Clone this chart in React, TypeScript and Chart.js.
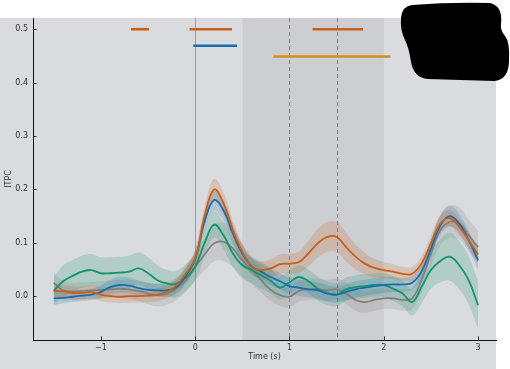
import React, { useEffect, useRef } from "react";
import { Chart, registerables } from "chart.js";

Chart.register(...registerables);

const timeS = [-1.5,-1.4,-1.3,-1.2,-1.1,-1.0,-0.9,-0.8,-0.7,-0.6,-0.5,-0.4,-0.3,-0.2,-0.1,0,0.1,0.2,0.3,0.4,0.5,0.6,0.7,0.8,0.9,1.0,1.1,1.2,1.3,1.4,1.5,1.6,1.7,1.8,1.9,2.0,2.1,2.2,2.3,2.4,2.5,2.6,2.7,2.8,2.9,3.0];

const itpcVermilion = [0.010,0.009,0.006,0.006,0.008,0.003,0.000,-0.001,0.000,0.000,0.001,0.003,0.008,0.020,0.042,0.070,0.150,0.200,0.174,0.124,0.083,0.055,0.049,0.052,0.060,0.061,0.064,0.080,0.099,0.111,0.111,0.092,0.074,0.061,0.053,0.049,0.046,0.042,0.042,0.061,0.099,0.136,0.146,0.130,0.105,0.078];
const ciVermilion = [0.015,0.012,0.012,0.012,0.012,0.012,0.012,0.012,0.012,0.012,0.012,0.012,0.012,0.013,0.015,0.017,0.019,0.020,0.020,0.018,0.016,0.015,0.016,0.017,0.018,0.018,0.020,0.024,0.027,0.028,0.028,0.027,0.024,0.020,0.017,0.015,0.014,0.013,0.013,0.014,0.015,0.015,0.015,0.015,0.015,0.015];

const itpcBlue = [-0.004,-0.003,-0.001,0.001,0.003,0.008,0.017,0.021,0.020,0.015,0.012,0.011,0.011,0.017,0.038,0.070,0.140,0.180,0.161,0.117,0.080,0.056,0.046,0.036,0.028,0.019,0.016,0.013,0.011,0.005,0.003,0.008,0.013,0.016,0.019,0.021,0.022,0.022,0.025,0.046,0.089,0.133,0.150,0.136,0.105,0.067];
const ciBlue = [0.012,0.010,0.010,0.010,0.010,0.012,0.014,0.015,0.015,0.014,0.013,0.012,0.012,0.013,0.015,0.017,0.019,0.020,0.020,0.018,0.016,0.015,0.015,0.015,0.015,0.015,0.015,0.015,0.015,0.015,0.015,0.015,0.015,0.015,0.015,0.015,0.014,0.013,0.013,0.014,0.016,0.018,0.020,0.018,0.017,0.017];

const itpcGreen = [0.010,0.028,0.038,0.046,0.049,0.043,0.043,0.044,0.046,0.052,0.043,0.030,0.024,0.023,0.035,0.055,0.100,0.134,0.114,0.080,0.058,0.049,0.039,0.029,0.016,0.026,0.036,0.028,0.014,0.006,0.003,0.013,0.017,0.019,0.021,0.021,0.014,0.005,-0.011,0.017,0.049,0.066,0.074,0.058,0.030,-0.017];
const ciGreen = [0.025,0.030,0.030,0.030,0.030,0.030,0.030,0.030,0.030,0.030,0.030,0.028,0.025,0.025,0.025,0.025,0.025,0.025,0.025,0.025,0.025,0.025,0.025,0.024,0.022,0.022,0.022,0.022,0.022,0.022,0.022,0.022,0.022,0.022,0.022,0.022,0.023,0.024,0.025,0.030,0.035,0.040,0.045,0.045,0.045,0.045];

const itpcGray = [0.025,0.011,0.009,0.010,0.011,0.012,0.013,0.014,0.013,0.010,0.005,0.002,0.005,0.014,0.030,0.055,0.078,0.099,0.102,0.089,0.067,0.049,0.030,0.012,0.002,-0.001,0.010,0.013,0.013,0.011,0.013,0.005,-0.007,-0.011,-0.007,-0.004,-0.004,-0.007,-0.004,0.030,0.080,0.124,0.139,0.136,0.114,0.092];
const ciGray = [0.020,0.018,0.016,0.016,0.016,0.016,0.016,0.017,0.018,0.019,0.020,0.021,0.021,0.021,0.022,0.025,0.030,0.034,0.036,0.035,0.030,0.026,0.023,0.021,0.020,0.020,0.020,0.020,0.020,0.020,0.020,0.020,0.020,0.020,0.020,0.020,0.020,0.020,0.020,0.022,0.025,0.028,0.030,0.030,0.030,0.030];

// significance bars: [start, end] in seconds, at a given ITPC level
const sigVermilionStarts = [-0.68, -0.06, 1.245];
const sigVermilionEnds = [-0.49, 0.39, 1.78];
const sigVermilionLevel = 0.5;
const sigBlueStarts = [-0.02];
const sigBlueEnds = [0.445];
const sigBlueLevel = 0.469;
const sigGoldStarts = [0.83];
const sigGoldEnds = [2.07];
const sigGoldLevel = 0.449;

const xTicks = [-1, 0, 1, 2, 3];
const yTicks = [0.0, 0.1, 0.2, 0.3, 0.4, 0.5];
const shadedWindow = [0.5, 2.0];
const solidMarks = [0];
const dashedMarks = [1, 1.5];

const COL_V = [200, 96, 26];
const COL_B = [24, 110, 170];
const COL_G = [20, 148, 108];
const COL_K = [128, 128, 128];
const COL_GOLD = [212, 140, 28];
const rgba = (c: number[], a: number) => `rgba(${c[0]},${c[1]},${c[2]},${a})`;

const FONT = "'DejaVu Sans', sans-serif";

function seriesSets(vals: number[], ci: number[], col: number[]) {
  const line = {
    data: timeS.map((x, i) => ({ x, y: vals[i] })),
    borderColor: rgba(col, 1),
    borderWidth: 1.8,
    pointRadius: 0,
    fill: false,
    tension: 0.4,
    order: 0,
  };
  const upper = {
    data: timeS.map((x, i) => ({ x, y: vals[i] + ci[i] })),
    borderWidth: 0,
    borderColor: "rgba(0,0,0,0)",
    pointRadius: 0,
    fill: "+1",
    backgroundColor: rgba(col, 0.2),
    tension: 0.4,
    order: 1,
  };
  const lower = {
    data: timeS.map((x, i) => ({ x, y: vals[i] - ci[i] })),
    borderWidth: 0,
    borderColor: "rgba(0,0,0,0)",
    pointRadius: 0,
    fill: false,
    tension: 0.4,
    order: 1,
  };
  return { line, upper, lower };
}

function barSets(starts: number[], ends: number[], level: number, col: number[]) {
  return starts.map((s, i) => ({
    data: [{ x: s, y: level }, { x: ends[i], y: level }],
    borderColor: rgba(col, 1),
    borderWidth: 2.6,
    pointRadius: 0,
    fill: false,
    order: 0,
  }));
}

const decorPlugin = {
  id: "decor",
  beforeDraw(chart: any) {
    const ctx = chart.ctx;
    ctx.save();
    ctx.fillStyle = "#ffffff";
    ctx.fillRect(0, 0, chart.width, chart.height);
    ctx.fillStyle = "rgb(218,219,222)";
    ctx.fillRect(0, 18, 496, chart.height - 18);
    ctx.restore();
  },
  beforeDatasetsDraw(chart: any) {
    const ctx = chart.ctx;
    const xs = chart.scales.x;
    const a = chart.chartArea;
    ctx.save();
    ctx.fillStyle = "rgba(180,180,184,0.33)";
    const x0 = xs.getPixelForValue(shadedWindow[0]);
    const x1 = xs.getPixelForValue(shadedWindow[1]);
    ctx.fillRect(x0, a.top, x1 - x0, a.bottom - a.top);
    ctx.lineWidth = 1;
    ctx.strokeStyle = "rgba(150,150,150,0.9)";
    solidMarks.forEach((v) => {
      const px = Math.round(xs.getPixelForValue(v)) + 0.5;
      ctx.beginPath();
      ctx.moveTo(px, a.top);
      ctx.lineTo(px, a.bottom);
      ctx.stroke();
    });
    ctx.strokeStyle = "rgba(120,120,120,0.9)";
    ctx.setLineDash([4, 3]);
    dashedMarks.forEach((v) => {
      const px = Math.round(xs.getPixelForValue(v)) + 0.5;
      ctx.beginPath();
      ctx.moveTo(px, a.top);
      ctx.lineTo(px, a.bottom);
      ctx.stroke();
    });
    ctx.restore();
  },
  afterDraw(chart: any) {
    const ctx = chart.ctx;
    const xs = chart.scales.x;
    const ys = chart.scales.y;
    const a = chart.chartArea;
    ctx.save();
    // inward tick marks
    ctx.strokeStyle = "#222";
    ctx.lineWidth = 1;
    xTicks.forEach((v) => {
      const px = Math.round(xs.getPixelForValue(v)) + 0.5;
      ctx.beginPath();
      ctx.moveTo(px, a.bottom);
      ctx.lineTo(px, a.bottom - 3.5);
      ctx.stroke();
    });
    yTicks.forEach((v) => {
      const py = Math.round(ys.getPixelForValue(v)) + 0.5;
      ctx.beginPath();
      ctx.moveTo(a.left, py);
      ctx.lineTo(a.left + 3.5, py);
      ctx.stroke();
    });
    // axis titles
    ctx.fillStyle = "#333";
    ctx.font = `8px ${FONT}`;
    ctx.textAlign = "center";
    ctx.textBaseline = "middle";
    ctx.fillText("Time (s)", (a.left + a.right) / 2, 357);
    ctx.translate(9, (a.top + a.bottom) / 2);
    ctx.rotate(-Math.PI / 2);
    ctx.fillText("ITPC", 0, 0);
    ctx.restore();
    // redaction blob
    ctx.save();
    ctx.fillStyle = "#000";
    ctx.beginPath();
    ctx.moveTo(412, 5);
    ctx.quadraticCurveTo(450, 2, 490, 3);
    ctx.quadraticCurveTo(503, 6, 501, 24);
    ctx.quadraticCurveTo(500, 30, 505, 36);
    ctx.quadraticCurveTo(510, 42, 509, 60);
    ctx.quadraticCurveTo(509, 80, 494, 81);
    ctx.lineTo(428, 79);
    ctx.quadraticCurveTo(414, 78, 411, 62);
    ctx.quadraticCurveTo(409, 48, 405, 40);
    ctx.quadraticCurveTo(400, 30, 401, 18);
    ctx.quadraticCurveTo(402, 6, 412, 5);
    ctx.closePath();
    ctx.fill();
    ctx.restore();
  },
};

export default function App() {
  const ref = useRef<HTMLCanvasElement | null>(null);
  useEffect(() => {
    if (!ref.current) return;
    const v = seriesSets(itpcVermilion, ciVermilion, COL_V);
    const b = seriesSets(itpcBlue, ciBlue, COL_B);
    const g = seriesSets(itpcGreen, ciGreen, COL_G);
    const k = seriesSets(itpcGray, ciGray, COL_K);
    const datasets: any[] = [
      ...barSets(sigVermilionStarts, sigVermilionEnds, sigVermilionLevel, COL_V),
      ...barSets(sigBlueStarts, sigBlueEnds, sigBlueLevel, COL_B),
      ...barSets(sigGoldStarts, sigGoldEnds, sigGoldLevel, COL_GOLD),
      v.line, b.line, g.line, k.line,
      v.upper, v.lower, b.upper, b.lower, g.upper, g.lower, k.upper, k.lower,
    ];
    const chart = new Chart(ref.current, {
      type: "line",
      data: { datasets },
      options: {
        animation: false,
        responsive: false,
        devicePixelRatio: 1,
        layout: { padding: { top: 18, right: 14, left: 0, bottom: 0 } },
        plugins: { legend: { display: false }, tooltip: { enabled: false } },
        scales: {
          x: {
            type: "linear",
            min: -1.72,
            max: 3.19,
            afterBuildTicks: (s: any) => { s.ticks = xTicks.map((value) => ({ value })); },
            afterFit: (s: any) => { s.height = 29; },
            grid: { display: false, drawTicks: false },
            border: { display: true, color: "#111", width: 1 },
            ticks: {
              padding: 3,
              color: "#333",
              font: { family: FONT, size: 8 },
              maxRotation: 0,
              callback: (val: any) => (val < 0 ? "\u2212" + Math.abs(val) : String(val)),
            },
          },
          y: {
            type: "linear",
            min: -0.082,
            max: 0.521,
            afterBuildTicks: (s: any) => { s.ticks = yTicks.map((value) => ({ value })); },
            afterFit: (s: any) => { s.width = 33; },
            grid: { display: false, drawTicks: false },
            border: { display: true, color: "#111", width: 1 },
            ticks: {
              padding: 5,
              color: "#333",
              font: { family: FONT, size: 8 },
              callback: (val: any) => Number(val).toFixed(1),
            },
          },
        },
      },
      plugins: [decorPlugin],
    } as any);
    return () => chart.destroy();
  }, []);
  return (
    <div style={{ position: "absolute", left: 0, top: 0, width: 510, height: 369 }}>
      <canvas ref={ref} width={510} height={369} style={{ display: "block", width: 510, height: 369 }} />
    </div>
  );
}
